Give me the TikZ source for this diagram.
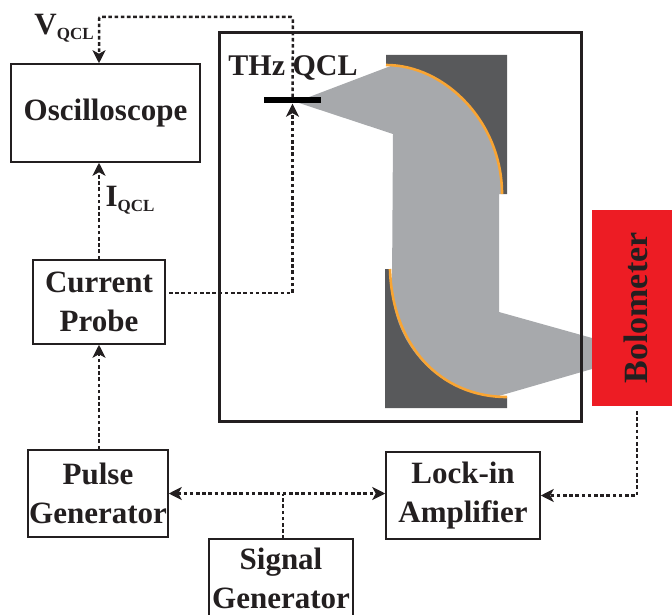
\documentclass[tikz,border=0pt]{standalone}
\usepackage{fontspec}
\setmainfont{Liberation Serif}
\usetikzlibrary{arrows.meta}
\definecolor{beamgray}{HTML}{A7A9AC}
\definecolor{mirrordark}{HTML}{58595B}
\definecolor{mirrororange}{HTML}{F9A533}
\definecolor{bolored}{HTML}{ED1C24}
\definecolor{inkblack}{HTML}{231F20}
\newcommand{\labelsub}[1]{{\fontsize{17}{17}\selectfont\raisebox{-5pt}{#1}}}
\tikzset{
  box/.style={draw=inkblack, line width=1.5pt, align=center, inner sep=0pt, text=inkblack,
    font=\bfseries\fontsize{31}{39}\selectfont},
  wire/.style={inkblack, line width=2.5pt, dash pattern=on 3.6pt off 2.6pt,
    >={Stealth[length=13pt,width=13pt,inset=3.5pt]}},
  lab/.style={inner sep=0pt, text=inkblack, font=\bfseries\fontsize{31}{36}\selectfont}
}
\begin{document}
\begin{tikzpicture}[x=1pt,y=-1pt]
\useasboundingbox (0,0) rectangle (672,615);

% Beam and mirrors
\fill[mirrordark] (386,55) -- (507,55) -- (507,194) -- (502,194)
  .. controls (502,122) and (445,65) .. (386,65) -- cycle;
\fill[mirrordark] (385,269) -- (390,269) .. controls (392,345) and (440,397) .. (507,397)
  -- (507,408) -- (385,408) -- cycle;
\fill[beamgray] (296,102) -- (392,65.5) .. controls (445,67) and (501,122) .. (502,194)
  -- (499,194) -- (499,312) -- (592,338) -- (592,369) -- (497,396.5)
  .. controls (440,394) and (392,345) .. (392,285) -- (393,134) -- cycle;
\draw[mirrororange, line width=2.6pt] (386,65) .. controls (445,65) and (502,122) .. (502,194);
\draw[mirrororange, line width=2.6pt] (390,269) .. controls (392,345) and (440,397) .. (507,397);

% Frame and bolometer
\node[draw=inkblack, line width=3pt, minimum width=362pt, minimum height=388pt, inner sep=0pt] (frame) at (400.5,227) {};
\node[fill=bolored, minimum width=80pt, minimum height=196pt, inner sep=0pt] (bolo) at (632,308) {};
\node[lab, rotate=90, font=\bfseries\fontsize{34}{36}\selectfont] (bololabel) at (636,308) {Bolometer};
\node[fill=black, minimum width=57pt, minimum height=6pt, inner sep=0pt] (qcl) at (292.5,100.5) {};
\node[lab, font=\bfseries\fontsize{30}{36}\selectfont] (qcllabel) at (293,68) {THz QCL};

% Instrument boxes in a loop
\foreach \name/\cx/\cy/\boxw/\boxh/\txt in {osc/105.5/113/189/98/Oscilloscope, probe/99/302/132/84/Current\\Probe,
    pulse/98/493.5/140/87/Pulse\\Generator, lock/463/495.5/154/87/Lock-in\\Amplifier, signal/281/578/144/78/Signal\\Generator} {
    \node[box, minimum width=\boxw pt, minimum height=\boxh pt] (\name) at (\cx,\cy) {\txt};
}

\node[lab] (vlabel) at (64,28) {V\labelsub{QCL}};
\node[lab] (ilabel) at (130,200) {I\labelsub{QCL}};

% Signal lines
\coordinate (vtop) at (293,17);
\coordinate (vleft) at (99,17);
\coordinate (probeout) at (169,293);
\coordinate (boloout) at (637,411);
\coordinate (sigout) at (283,539);
\draw[wire,->,rounded corners=2pt] (qcl.north) -- (vtop) -- (vleft) -- (vleft |- osc.north);
\draw[wire,->] (probe.north) -- (probe.north |- osc.south);
\draw[wire,->] (probeout) -| (qcl.south);
\draw[wire,->] (probe.south |- pulse.north) -- (probe.south);
\draw[wire,<->] (pulse.east) -- (pulse.east -| lock.west);
\draw[wire] (sigout) -- (sigout |- pulse.east);
\draw[wire,->] (boloout) |- (lock.east);

\end{tikzpicture}
\end{document}
